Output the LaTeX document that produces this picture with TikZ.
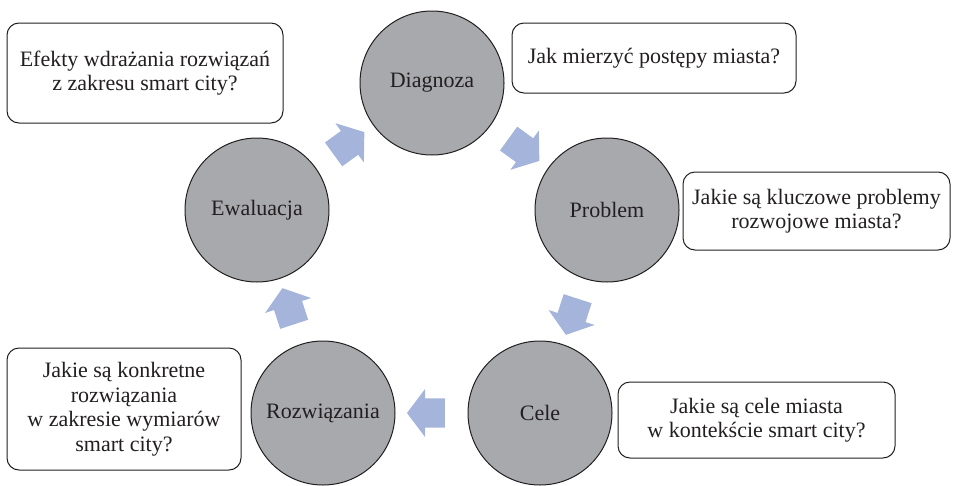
\documentclass[tikz,border=0pt]{standalone}
\usepackage{fontspec}
\setmainfont{Liberation Serif}
\usetikzlibrary{shapes.arrows,calc}
\definecolor{stagefill}{HTML}{A7A9AC}
\definecolor{inkdark}{HTML}{231F20}
\definecolor{flowblue}{HTML}{A4B4DA}
\begin{document}
\begin{tikzpicture}[x=1pt,y=1pt,
  stage/.style={circle,draw=inkdark,line width=1pt,fill=stagefill,
    minimum size=144pt,inner sep=0pt,text=inkdark,
    font=\fontsize{22}{25}\selectfont},
  question/.style={draw=inkdark,line width=1pt,rounded corners=12pt,
    fill=white,align=center,text=inkdark,inner sep=0pt,
    font=\fontsize{22}{24.5}\selectfont},
  flow/.style={single arrow,fill=flowblue,draw=none,
    minimum height=38pt,inner xsep=0pt,inner ysep=14.5pt,
    single arrow head extend=9.5pt,single arrow tip angle=106}
]
\useasboundingbox (0,0) rectangle (953,-485);

% cycle stages
\node[stage] (diag) at (432,-83)  {Diagnoza};
\node[stage] (prob) at (607,-210) {Problem};
\node[stage] (cele) at (540,-413) {Cele};
\node[stage] (rozw) at (323,-413) {Rozwiązania};
\node[stage] (ewal) at (257,-210) {Ewaluacja};

% block arrows between consecutive stages
\node[flow,rotate=-36]  (f1) at ($(diag)!0.5!(prob)$) {};
\node[flow,rotate=-108] (f2) at ($(prob)!0.5!(cele)$) {};
\node[flow,rotate=180]  (f3) at ($(cele)!0.5!(rozw)$) {};
\node[flow,rotate=108]  (f4) at ($(rozw)!0.5!(ewal)$) {};
\node[flow,rotate=36]   (f5) at ($(ewal)!0.5!(diag)$) {};

% guiding questions
\node[question,minimum width=276pt,minimum height=100pt] (q5) at (145,-73)
  {Efekty wdrażania rozwiązań\\z zakresu smart city?};
\node[question,minimum width=284pt,minimum height=70pt] (q1) at (654,-58)
  {Jak mierzyć postępy miasta?};
\node[question,minimum width=267pt,minimum height=78pt] (q2) at (816.5,-211)
  {Jakie są kluczowe problemy\\rozwojowe miasta?};
\node[question,minimum width=234pt,minimum height=122pt] (q4) at (124,-409)
  {Jakie są konkretne\\rozwiązania\\w zakresie wymiarów\\smart city?};
\node[question,minimum width=277pt,minimum height=76pt] (q3) at (756.5,-420)
  {Jakie są cele miasta\\w kontekście smart city?};
\end{tikzpicture}
\end{document}
